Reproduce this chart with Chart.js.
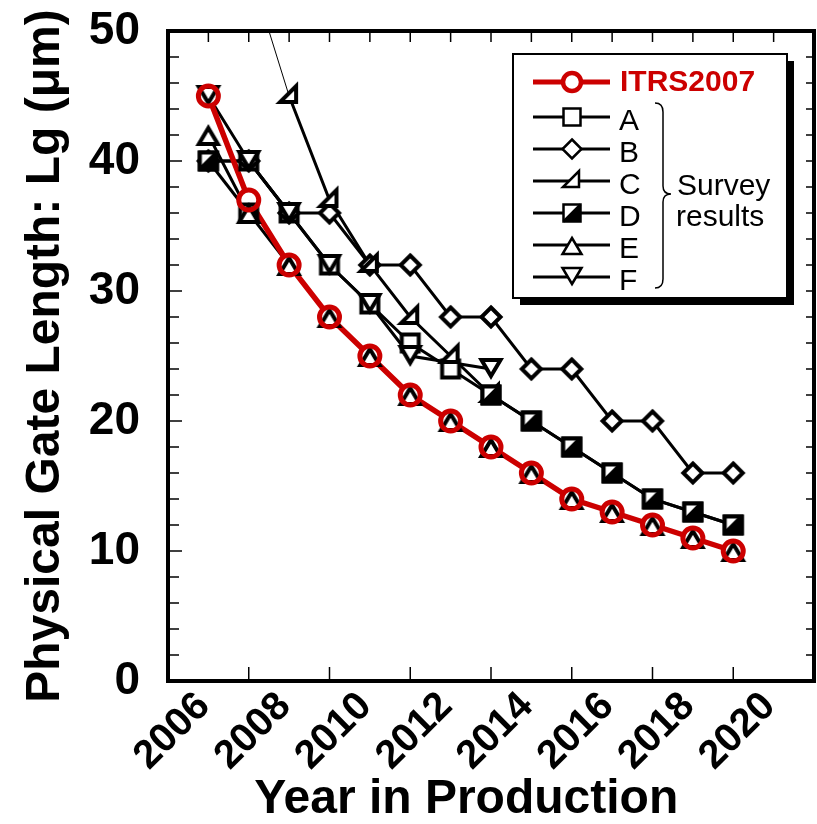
<!DOCTYPE html>
<html>
<head>
<meta charset="utf-8">
<title>Physical Gate Length</title>
<script src="https://cdn.jsdelivr.net/npm/chart.js@4.4.1/dist/chart.umd.min.js"></script>
<style>
html,body{margin:0;padding:0;background:#fff;overflow:hidden;}
canvas{display:block;}
</style>
</head>
<body>
<canvas id="chart" width="817" height="824"></canvas>
<script>
// ---------------- data ----------------
const years = [2007,2008,2009,2010,2011,2012,2013,2014,2015,2016,2017,2018,2019,2020];
const itrs2007 = [45,37,32,28,25,22,20,18,16,14,13,12,11,10];
const surveyA  = [40,40,36,32,29,26,24,22,20,18,16,14,13,12];
const surveyB  = [40,40,36,36,32,32,28,28,24,24,20,20,16,16];
const surveyC  = [null,55,45,37,32,28,25,22,null,null,null,null,null,null];
const surveyD  = [40,36,null,null,null,null,null,22,20,18,16,14,13,12];
const surveyE  = [42,36,32,28,25,22,20,18,16,14,13,12,11,10];
const surveyF  = [45,40,36,32,29,25,null,24,null,null,null,null,null,null];
const seriesNames = ['ITRS2007','A','B','C','D','E','F'];
const xTickLabels = ['2006','2008','2010','2012','2014','2016','2018','2020'];
const yTickLabels = ['0','10','20','30','40','50'];
const xTitle = 'Year in Production';
const yTitle = 'Physical Gate Length: Lg (\u03bcm)';
const braceLabel = ['Survey','results'];

// ---------------- styles ----------------
const FONT = "'Liberation Sans', Arial, Helvetica, sans-serif";
const RED = '#cc0000';
Chart.defaults.font.family = FONT;
Chart.defaults.color = '#000';

function markerCanvas(kind, lw) {
  const S = 36;
  const c = document.createElement('canvas');
  c.width = S; c.height = S;
  const g = c.getContext('2d');
  g.translate(S / 2, S / 2);
  g.lineWidth = lw;
  g.strokeStyle = '#000';
  g.fillStyle = '#fff';
  g.lineJoin = 'miter';
  const h = 8.5;
  const path = () => {
    g.beginPath();
    if (kind === 'square' || kind === 'halfsquare') g.rect(-h, -h, 2 * h, 2 * h);
    else if (kind === 'diamond') { g.moveTo(0, -9.5); g.lineTo(9.5, 0); g.lineTo(0, 9.5); g.lineTo(-9.5, 0); g.closePath(); }
    else if (kind === 'halftri') { g.moveTo(-9, 6); g.lineTo(7, 6); g.lineTo(7, -10); g.closePath(); }
    else if (kind === 'up') { g.moveTo(0, -7); g.lineTo(9.5, 9); g.lineTo(-9.5, 9); g.closePath(); }
    else if (kind === 'down') { g.moveTo(0, 7); g.lineTo(9.5, -9); g.lineTo(-9.5, -9); g.closePath(); }
  };
  path();
  g.fill();
  if (kind === 'halfsquare') {
    g.fillStyle = '#000';
    g.beginPath(); g.moveTo(-h, h); g.lineTo(h, -h); g.lineTo(h, h); g.closePath(); g.fill();
    g.beginPath(); g.moveTo(-h, h); g.lineTo(h, -h); g.stroke();
    path();
  }
  g.stroke();
  return c;
}

const series = [
  { name: seriesNames[1], values: surveyA, kind: 'square',     span: false, markerOrder: 7 },
  { name: seriesNames[2], values: surveyB, kind: 'diamond',    span: false, markerOrder: 6 },
  { name: seriesNames[3], values: surveyC, kind: 'halftri',    span: false, markerOrder: 5 },
  { name: seriesNames[4], values: surveyD, kind: 'halfsquare', span: false, markerOrder: 4 },
  { name: seriesNames[5], values: surveyE, kind: 'up',         span: false, markerOrder: 2 },
  { name: seriesNames[6], values: surveyF, kind: 'down',       span: true,  markerOrder: 3 }
];
series.forEach(s => {
  s.plotMarker = markerCanvas(s.kind, 4);
  s.legendMarker = markerCanvas(s.kind, 2.5);
});

const pts = vals => years.map((yr, i) => ({ x: yr, y: vals[i] }));
const Y_MAX = 50;

const datasets = [];
// black connecting lines (bottom layer)
series.forEach((s, i) => {
  datasets.push({
    label: s.name + ' line', data: pts(s.values), borderColor: '#000', borderWidth: 3,
    pointRadius: 0, spanGaps: s.span, order: 30 + i, fill: false,
    segment: { borderWidth: c => (c.p0.parsed.y > Y_MAX || c.p1.parsed.y > Y_MAX ? 1 : 3) }
  });
});
// red ITRS line
datasets.push({ label: 'ITRS line', data: pts(itrs2007), borderColor: RED, borderWidth: 5.5,
  pointRadius: 0, order: 20, fill: false });
// white interiors of ITRS circles
datasets.push({ label: 'ITRS fill', data: pts(itrs2007), showLine: false, pointStyle: 'circle',
  pointRadius: 10, pointBorderWidth: 0, pointBackgroundColor: '#fff', pointBorderColor: 'rgba(0,0,0,0)', order: 10 });
// survey markers
series.forEach(s => {
  datasets.push({ label: s.name, data: pts(s.values), showLine: false, pointStyle: s.plotMarker,
    pointRadius: 11, order: s.markerOrder });
});
// ITRS rings on top
datasets.push({ label: seriesNames[0], data: pts(itrs2007), showLine: false, pointStyle: 'circle',
  pointRadius: 10, pointBorderWidth: 5, pointBorderColor: RED, pointBackgroundColor: 'rgba(0,0,0,0)', order: 1 });

// ---------------- plugins ----------------
const framePlugin = {
  id: 'frame',
  afterDatasetsDraw(chart) {
    const { ctx, chartArea: a, scales: { x, y } } = chart;
    ctx.save();
    ctx.strokeStyle = '#000';
    ctx.lineWidth = 1.5;
    const seg = (x1, y1, x2, y2) => { ctx.beginPath(); ctx.moveTo(x1, y1); ctx.lineTo(x2, y2); ctx.stroke(); };
    for (let v = 2; v < y.max; v += 2) {
      const py = y.getPixelForValue(v);
      seg(a.left, py, a.left + (v % 10 === 0 ? 14 : 11), py);
      seg(a.right, py, a.right - 8, py);
    }
    for (let yr = x.min + 1; yr < x.max; yr++) {
      const px = x.getPixelForValue(yr);
      seg(px, a.top, px, a.top + 11);
    }
    for (let yr = x.min + 2; yr < x.max; yr += 2) {
      const px = x.getPixelForValue(yr);
      seg(px, a.bottom, px, a.bottom - 14);
    }
    ctx.lineWidth = 4;
    ctx.strokeRect(a.left, a.top, a.right - a.left, a.bottom - a.top);
    ctx.restore();
  }
};

const legendPlugin = {
  id: 'surveyLegend',
  afterDraw(chart) {
    const ctx = chart.ctx;
    const bx = 513, by = 54, bw = 274, bh = 244;
    ctx.save();
    ctx.fillStyle = '#000';
    ctx.fillRect(bx + 7, by + 7, bw, bh);
    ctx.fillStyle = '#fff';
    ctx.fillRect(bx, by, bw, bh);
    ctx.strokeStyle = '#000';
    ctx.lineWidth = 2;
    ctx.strokeRect(bx, by, bw, bh);

    const x1 = 533, x2 = 610, mx = 572, tx = 619;
    // ITRS row
    const ry = 82;
    ctx.strokeStyle = RED; ctx.lineWidth = 5;
    ctx.beginPath(); ctx.moveTo(x1, ry); ctx.lineTo(x2, ry); ctx.stroke();
    ctx.beginPath(); ctx.arc(mx, ry, 9, 0, Math.PI * 2);
    ctx.fillStyle = '#fff'; ctx.fill(); ctx.lineWidth = 4.5; ctx.stroke();
    ctx.fillStyle = RED;
    ctx.font = 'bold 30px ' + FONT;
    ctx.textBaseline = 'middle'; ctx.textAlign = 'left';
    ctx.fillText(seriesNames[0], tx + 1, ry + 1);

    // survey rows
    ctx.font = '30px ' + FONT;
    series.forEach((s, i) => {
      const ly = 117 + i * 32;
      ctx.strokeStyle = '#000'; ctx.lineWidth = 3;
      ctx.beginPath(); ctx.moveTo(x1, ly); ctx.lineTo(x2, ly); ctx.stroke();
      ctx.drawImage(s.legendMarker, mx - s.legendMarker.width / 2, ly - s.legendMarker.height / 2);
      ctx.fillStyle = '#000';
      ctx.fillText(s.name, tx, ly + 5);
    });

    // brace
    ctx.strokeStyle = '#000'; ctx.lineWidth = 1.5;
    const bxr = 663, top = 103, bot = 288, tip = 194;
    ctx.beginPath();
    ctx.moveTo(655, top);
    ctx.quadraticCurveTo(bxr, top, bxr, top + 9);
    ctx.lineTo(bxr, tip - 8);
    ctx.quadraticCurveTo(bxr, tip, bxr + 8, tip);
    ctx.quadraticCurveTo(bxr, tip, bxr, tip + 8);
    ctx.lineTo(bxr, bot - 9);
    ctx.quadraticCurveTo(bxr, bot, 655, bot);
    ctx.stroke();
    ctx.fillText(braceLabel[0], 677, 187);
    ctx.fillText(braceLabel[1], 676, 218);
    ctx.restore();
  }
};

// ---------------- chart ----------------
new Chart(document.getElementById('chart'), {
  type: 'line',
  data: { datasets },
  options: {
    responsive: false,
    animation: false,
    events: [],
    layout: { autoPadding: false, padding: { top: 31, right: 3, left: 0, bottom: 0 } },
    plugins: { legend: { display: false }, tooltip: { enabled: false } },
    scales: {
      x: {
        type: 'linear', position: 'bottom', min: 2006, max: 2022,
        afterFit: s => { s.height = 143; s.paddingLeft = 0; s.paddingRight = 0; },
        grid: { display: false }, border: { display: false },
        ticks: {
          stepSize: 2, autoSkip: false, minRotation: 45, maxRotation: 45,
          padding: -6, labelOffset: 36, color: '#000',
          font: { size: 40, weight: 'bold', family: FONT },
          callback: v => xTickLabels[(v - 2006) / 2] ?? ''
        },
        title: { display: true, text: xTitle + '\u00a0\u00a0\u00a0\u2009', color: '#000',
          font: { size: 48, weight: 'bold', family: FONT, lineHeight: 1 }, padding: { top: 0, bottom: 0 } }
      },
      y: {
        type: 'linear', position: 'left', min: 0, max: Y_MAX,
        afterFit: s => { s.width = 168; s.paddingTop = 0; s.paddingBottom = 0; },
        grid: { display: false }, border: { display: false },
        ticks: {
          stepSize: 10, padding: 20, color: '#000',
          font: { size: 46, weight: 'bold', family: FONT },
          callback: v => yTickLabels[v / 10] ?? ''
        },
        title: { display: true, text: yTitle, color: '#000',
          font: { size: 48, weight: 'bold', family: FONT, lineHeight: 1 }, padding: { top: 22, bottom: 0 } }
      }
    }
  },
  plugins: [framePlugin, legendPlugin]
});
</script>
</body>
</html>
